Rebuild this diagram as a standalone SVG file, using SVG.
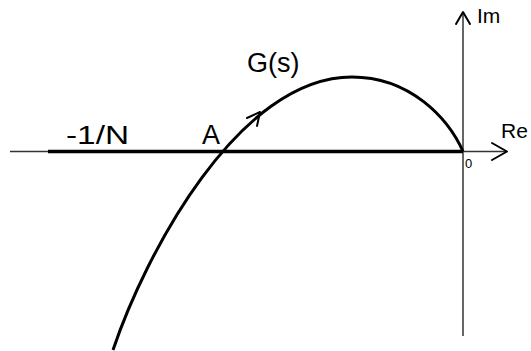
<svg xmlns="http://www.w3.org/2000/svg" width="531" height="351" viewBox="0 0 531 351">
<style>
.t{font-family:"Liberation Sans",Arial,sans-serif;fill:#000}
.ax{stroke:#333;stroke-width:1.5;fill:none}
.arr{stroke:#000;stroke-width:2;fill:none;stroke-linecap:round;stroke-linejoin:round}
</style>
<rect width="531" height="351" fill="#fff"/>
<g id="axes">
<line class="ax" x1="10" y1="151.5" x2="506" y2="151.5"/>
<polyline class="arr" points="492,143 507,151.5 492,160"/>
<line class="ax" x1="463" y1="13" x2="463" y2="336"/>
<polyline class="arr" points="456,24 463,12 470,24"/>
</g>
<g id="critical-line">
<line x1="48" y1="151.5" x2="463" y2="151.5" stroke="#000" stroke-width="3.5"/>
</g>
<g id="nyquist-curve">
<path d="M113,350 C145,255 238,77 352,77 C410,77 448,118 463,151.5" fill="none" stroke="#000" stroke-width="3"/>
<polyline class="arr" points="247,118 260,112 257,126" stroke-width="2.5"/>
</g>
<g id="labels">
<text class="t" x="66" y="144" font-size="26" textLength="63" lengthAdjust="spacingAndGlyphs">-1/N</text>
<text class="t" x="202" y="144" font-size="27">A</text>
<text class="t" x="247" y="72" font-size="27">G(s)</text>
<text class="t" x="477" y="23" font-size="21">Im</text>
<text class="t" x="501" y="138" font-size="21">Re</text>
<text class="t" x="465" y="168" font-size="13">0</text>
</g>
</svg>
